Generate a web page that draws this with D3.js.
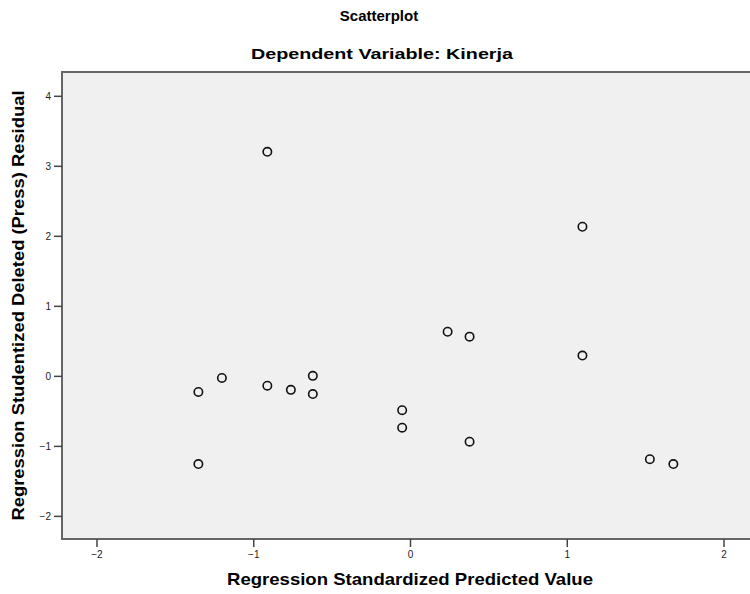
<!DOCTYPE html>
<html>
<head>
<meta charset="utf-8">
<script src="https://cdn.jsdelivr.net/npm/d3@7"></script>
<style>
  body { margin: 0; background: #fff; }
  svg text { font-family: Arial, "Liberation Sans", sans-serif; fill: #000; }
</style>
</head>
<body>
<div id="chart"></div>
<script>
// standardized predicted value (x) vs studentized deleted residual (y)
var predicted = [-0.91, -1.20, -1.35, -0.91, -0.76, -0.62, -0.62, -1.35, 0.24, 0.38, -0.05, -0.05, 0.38, 1.10, 1.10, 1.53, 1.68];
var residual  = [3.20, -0.03, -0.23, -0.14, -0.20, 0.00, -0.26, -1.26, 0.63, 0.56, -0.49, -0.74, -0.94, 2.13, 0.29, -1.19, -1.26];

var xTicks = [-2, -1, 0, 1, 2];
var yTicks = [-2, -1, 0, 1, 2, 3, 4];

var titleText = "Scatterplot";
var subtitleText = "Dependent Variable: Kinerja";
var xLabel = "Regression Standardized Predicted Value";
var yLabel = "Regression Studentized Deleted (Press) Residual";

var W = 750, H = 594;
var margin = {top: 72, right: -8, bottom: 55, left: 62};
var width = W - margin.left - margin.right;
var height = H - margin.top - margin.bottom;

var svg = d3.select("#chart").append("svg")
    .attr("width", W)
    .attr("height", H);

var g = svg.append("g")
    .attr("transform", "translate(" + margin.left + "," + margin.top + ")");

var x = d3.scaleLinear().domain([-2.22, 2.22]).range([0, width]);
var y = d3.scaleLinear().domain([-2.33, 4.34]).range([height, 0]);

// plot area
g.append("rect")
    .attr("width", width)
    .attr("height", height)
    .attr("fill", "#f0f0f0")
    .attr("stroke", "#666")
    .attr("stroke-width", 2);

// axes
var axisLeft = d3.axisLeft(y).tickValues(yTicks).tickSize(8).tickPadding(3).tickFormat(d3.format("d"));
var yAxis = g.append("g").call(axisLeft);
var axisBottom = d3.axisBottom(x).tickValues(xTicks).tickSize(8).tickPadding(4).tickFormat(d3.format("d"));
var xAxis = g.append("g").attr("transform", "translate(0," + height + ")").call(axisBottom);

[xAxis, yAxis].forEach(function(a) {
  a.select(".domain").remove();
  a.selectAll(".tick line").attr("stroke", "#444").attr("stroke-width", 1.5);
  a.selectAll(".tick text").style("font-size", "10px").style("fill", "#222");
});

// points
g.selectAll("circle.pt")
  .data(predicted.map(function(d, i) { return {x: d, y: residual[i]}; }))
  .enter()
  .append("circle")
    .attr("class", "pt")
    .attr("cx", function(d) { return x(d.x); })
    .attr("cy", function(d) { return y(d.y); })
    .attr("r", 4.2)
    .attr("fill", "none")
    .attr("stroke", "#111")
    .attr("stroke-width", 1.6);

// titles
svg.append("text")
    .attr("x", 379).attr("y", 21)
    .attr("text-anchor", "middle")
    .style("font-size", "15px")
    .style("font-weight", "bold")
    .text(titleText);

svg.append("text")
    .attr("x", 382).attr("y", 59)
    .attr("text-anchor", "middle")
    .attr("textLength", 262)
    .attr("lengthAdjust", "spacingAndGlyphs")
    .style("font-size", "15px")
    .style("font-weight", "bold")
    .text(subtitleText);

svg.append("text")
    .attr("x", margin.left + x(0)).attr("y", 585)
    .attr("text-anchor", "middle")
    .attr("textLength", 366)
    .attr("lengthAdjust", "spacingAndGlyphs")
    .style("font-size", "17px")
    .style("font-weight", "bold")
    .text(xLabel);

svg.append("text")
    .attr("transform", "translate(24," + (margin.top + height / 2) + ") rotate(-90)")
    .attr("text-anchor", "middle")
    .attr("textLength", 430)
    .attr("lengthAdjust", "spacingAndGlyphs")
    .style("font-size", "16px")
    .style("font-weight", "bold")
    .text(yLabel);
</script>
</body>
</html>
